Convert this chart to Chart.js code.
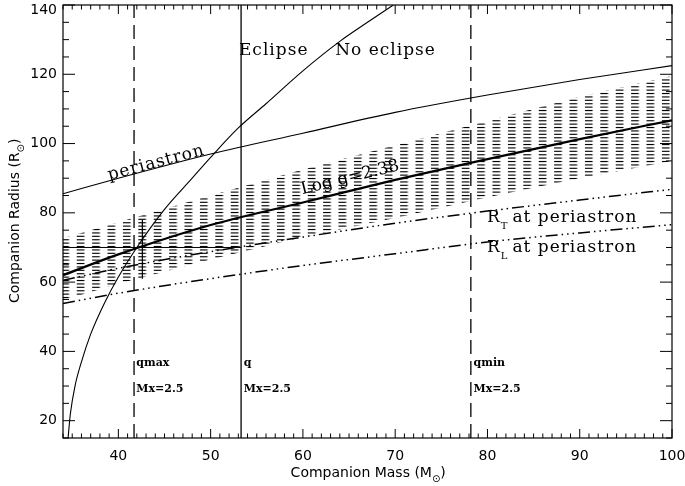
<!DOCTYPE html>
<html>
<head>
<meta charset="utf-8">
<script src="https://cdn.jsdelivr.net/npm/chart.js@4.4.1/dist/chart.umd.min.js"></script>
<style>
html, body { margin: 0; padding: 0; background: #fff; }
</style>
</head>
<body>
<canvas id="massChart" width="685" height="486"></canvas>
<script>
// values
var massGrid = [34, 40, 50, 60, 70, 80, 90, 100];
var periastronRadius = [85.5, 90, 97, 103, 109, 114, 118.5, 122.5];
var loggRadius = [62, 68, 76.5, 83, 89.5, 95.5, 101.3, 106.7];
var bandUpper = [72.7, 77.3, 85, 92.5, 99.5, 106.5, 113.5, 119.5];
var bandLower = [54.8, 59.5, 66.5, 73, 78.5, 84.5, 90, 95];
var tidalRadius = [60.5, 64, 68.8, 73, 77, 80.5, 83.7, 86.8];
var lobeRadius = [53.8, 56.8, 61, 64.8, 68.2, 71.6, 74.2, 76.6];

var eclipseMass = [34.55, 34.8, 35.3, 36, 37, 38.5, 40, 42, 45, 48, 50, 53, 56, 60, 64, 67, 69.8];
var eclipseRadius = [15, 22, 30, 37, 45, 54, 61.5, 70, 81, 90, 96, 104.5, 111.5, 121, 129.5, 135, 140];

var qmaxMass = 41.7;
var qMass = 53.3;
var qminMass = 78.2;
var crossMass = [34, 53.3];
var crossRadius = [70, 70];
var barMass = [42.6, 42.6];
var barRadius = [61, 78];

var xTicks = [40, 50, 60, 70, 80, 90, 100];
var yTicks = [20, 40, 60, 80, 100, 120, 140];
var xMin = 34, xMax = 100, yMin = 15, yMax = 140;

function pts(xs, ys) {
    return xs.map(function(x, i) { return { x: x, y: ys[i] }; });
}
function vline(x) {
    return [{ x: x, y: yMin }, { x: x, y: yMax }];
}

// horizontal dashed hatching, like IDL line_fill with linestyle 2
var tile = document.createElement('canvas');
tile.width = 15;
tile.height = 3;
var tctx = tile.getContext('2d');
tctx.fillStyle = '#000';
tctx.fillRect(0, 1, 7.5, 1);
var hatch = document.getElementById('massChart').getContext('2d').createPattern(tile, 'repeat');
hatch.setTransform(new DOMMatrix().translate(61.3, 0).scale(15.4 / 15, 3.4 / 3));

var bigFont = '17px "DejaVu Serif"';
var smallFont = 'bold 11px "DejaVu Serif"';
var notes = [
    { text: 'periastron', x: 44.1, y: 94.4, rot: -14.8, font: bigFont, align: 'center', spacing: 1 },
    { text: 'Log g=2.38', x: 65.1, y: 90.1, rot: -14, font: bigFont, align: 'center', spacing: 0 },
    { text: 'Eclipse', x: 53.07, y: 126.7, font: bigFont, align: 'left', spacing: 1 },
    { text: 'No eclipse', x: 63.5, y: 126.7, font: bigFont, align: 'left', spacing: 1 },
    { text: 'qmax', x: 41.95, y: 36.6, font: smallFont, align: 'left', spacing: 0 },
    { text: 'Mx=2.5', x: 41.95, y: 29.1, font: smallFont, align: 'left', spacing: 0 },
    { text: 'q', x: 53.6, y: 36.6, font: smallFont, align: 'left', spacing: 0 },
    { text: 'Mx=2.5', x: 53.6, y: 29.1, font: smallFont, align: 'left', spacing: 0 },
    { text: 'qmin', x: 78.5, y: 36.6, font: smallFont, align: 'left', spacing: 0 },
    { text: 'Mx=2.5', x: 78.5, y: 29.1, font: smallFont, align: 'left', spacing: 0 }
];
var subNotes = [
    { main: 'R', sub: 'T', rest: 'at periastron', x: 79.95, y: 78.5 },
    { main: 'R', sub: 'L', rest: 'at periastron', x: 79.95, y: 69.85 }
];

function drawSub(ctx, main, sub, rest, x, y, font, subFont, subDrop, gap) {
    ctx.font = font;
    var w1 = ctx.measureText(main).width;
    var w3 = ctx.measureText(rest).width;
    ctx.font = subFont;
    var w2 = ctx.measureText(sub).width;
    ctx.textAlign = 'left';
    ctx.textBaseline = 'middle';
    ctx.font = font;
    ctx.fillText(main, x, y);
    ctx.font = subFont;
    ctx.fillText(sub, x + w1, y + subDrop);
    ctx.font = font;
    ctx.fillText(rest, x + w1 + w2 + (gap || 0), y);
    return w1 + w2 + w3;
}

var idlFrame = {
    id: 'idlFrame',
    afterDatasetsDraw: function(chart) {
        var ctx = chart.ctx;
        var a = chart.chartArea;
        var xs = chart.scales.x, ys = chart.scales.y;
        ctx.save();
        ctx.strokeStyle = '#000';
        ctx.fillStyle = '#000';
        ctx.lineWidth = 1.2;
        ctx.strokeRect(a.left, a.top, a.right - a.left, a.bottom - a.top);

        ctx.lineWidth = 1;
        ctx.beginPath();
        for (var v = xMin; v <= xMax; v++) {
            var px = xs.getPixelForValue(v);
            var len = (v % 10 === 0) ? 9 : 4.5;
            ctx.moveTo(px, a.bottom); ctx.lineTo(px, a.bottom - len);
            ctx.moveTo(px, a.top); ctx.lineTo(px, a.top + len);
        }
        for (var w = yMin; w <= yMax; w += 5) {
            var py = ys.getPixelForValue(w);
            var ylen = (w % 20 === 0) ? 12 : 6;
            ctx.moveTo(a.left, py); ctx.lineTo(a.left + ylen, py);
            ctx.moveTo(a.right, py); ctx.lineTo(a.right - ylen, py);
        }
        ctx.stroke();

        // tick labels
        ctx.font = '14px "DejaVu Sans"';
        ctx.textAlign = 'center';
        ctx.textBaseline = 'middle';
        xTicks.forEach(function(t) {
            ctx.fillText(String(t), xs.getPixelForValue(t), a.bottom + 18);
        });
        ctx.textAlign = 'right';
        yTicks.forEach(function(t) {
            ctx.fillText(String(t), a.left - 6, Math.max(ys.getPixelForValue(t), 10));
        });

        // axis titles
        var tf = '14px "DejaVu Sans"', sf = '10px "DejaVu Sans"';
        ctx.font = tf;
        var tw = ctx.measureText('Companion Mass (M)').width + 7;
        drawSub(ctx, 'Companion Mass (M', '\u2299', ')', (a.left + a.right) / 2 - tw / 2, a.bottom + 35, tf, sf, 6);
        ctx.save();
        ctx.translate(15, (a.top + a.bottom) / 2);
        ctx.rotate(-Math.PI / 2);
        var th = ctx.measureText('Companion Radius (R)').width + 7;
        drawSub(ctx, 'Companion Radius (R', '\u2299', ')', -th / 2, 0, tf, sf, 6);
        ctx.restore();

        // annotations
        notes.forEach(function(n) {
            ctx.save();
            ctx.translate(xs.getPixelForValue(n.x), ys.getPixelForValue(n.y));
            if (n.rot) ctx.rotate(n.rot * Math.PI / 180);
            ctx.font = n.font;
            ctx.letterSpacing = n.spacing + 'px';
            ctx.textAlign = n.align;
            ctx.textBaseline = 'middle';
            ctx.fillText(n.text, 0, 0);
            ctx.restore();
        });
        ctx.save();
        ctx.letterSpacing = '1px';
        subNotes.forEach(function(n) {
            drawSub(ctx, n.main, n.sub, n.rest, xs.getPixelForValue(n.x), ys.getPixelForValue(n.y),
                bigFont, '10px "DejaVu Serif"', 8, 4);
        });
        ctx.restore();
        ctx.restore();
    }
};

var ctx = document.getElementById('massChart').getContext('2d');

var lineBase = { showLine: true, pointRadius: 0, borderColor: '#000', fill: false, tension: 0 };
function ds(extra) {
    return Object.assign({}, lineBase, extra);
}

var myChart = new Chart(ctx, {
    type: 'scatter',
    data: {
        datasets: [
            ds({ label: 'band lower', data: pts(massGrid, bandLower), borderWidth: 0 }),
            ds({ label: 'band upper', data: pts(massGrid, bandUpper), borderWidth: 0, fill: '-1', backgroundColor: hatch }),
            ds({ label: 'periastron', data: pts(massGrid, periastronRadius), borderWidth: 1.1, cubicInterpolationMode: 'monotone' }),
            ds({ label: 'Log g=2.38', data: pts(massGrid, loggRadius), borderWidth: 2.2, cubicInterpolationMode: 'monotone' }),
            ds({ label: 'R_T', data: pts(massGrid, tidalRadius), borderWidth: 1.5, cubicInterpolationMode: 'monotone',
                 borderDash: [12, 4, 1.5, 4, 1.5, 4, 1.5, 4] }),
            ds({ label: 'R_L', data: pts(massGrid, lobeRadius), borderWidth: 1.5, cubicInterpolationMode: 'monotone',
                 borderDash: [12, 4, 1.5, 4, 1.5, 4, 1.5, 4] }),
            ds({ label: 'eclipse', data: pts(eclipseMass, eclipseRadius), borderWidth: 1.1, cubicInterpolationMode: 'monotone' }),
            ds({ label: 'cross', data: pts(crossMass, crossRadius), borderWidth: 1 }),
            ds({ label: 'bar', data: pts(barMass, barRadius), borderWidth: 1.2 }),
            ds({ label: 'qmax', data: vline(qmaxMass), borderWidth: 1.3, borderDash: [14, 7] }),
            ds({ label: 'q', data: vline(qMass), borderWidth: 1.3 }),
            ds({ label: 'qmin', data: vline(qminMass), borderWidth: 1.3, borderDash: [14, 7] })
        ]
    },
    options: {
        responsive: false,
        animation: false,
        devicePixelRatio: 1,
        layout: { padding: { left: 0, right: 13, top: 5, bottom: 0 } },
        plugins: { legend: { display: false }, tooltip: { enabled: false } },
        scales: {
            x: {
                type: 'linear', min: xMin, max: xMax,
                grid: { display: false }, border: { display: false },
                ticks: { display: false },
                afterFit: function(s) { s.height = 48; }
            },
            y: {
                type: 'linear', min: yMin, max: yMax,
                grid: { display: false }, border: { display: false },
                ticks: { display: false },
                afterFit: function(s) { s.width = 63; }
            }
        }
    },
    plugins: [idlFrame]
});
</script>
</body>
</html>
